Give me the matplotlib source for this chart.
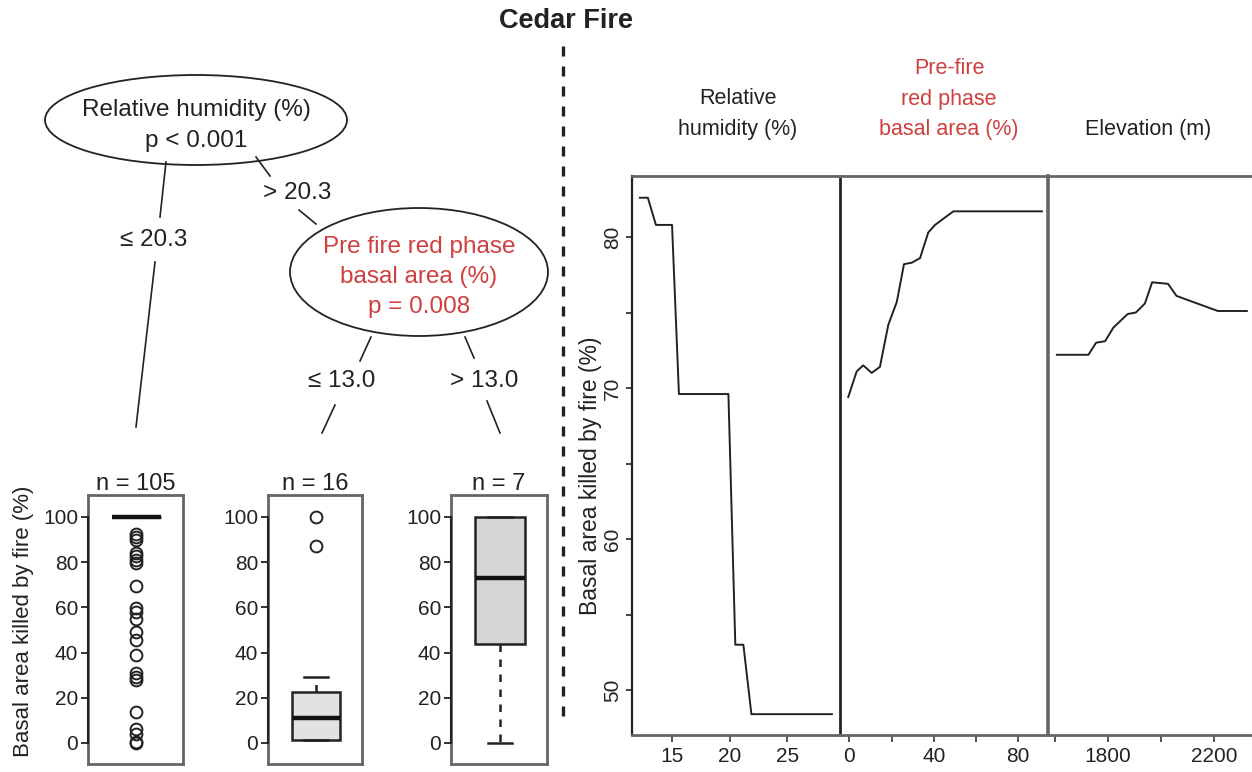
import matplotlib
matplotlib.use('Agg')
import matplotlib.pyplot as plt
from matplotlib.patches import Ellipse
from matplotlib.ticker import FixedLocator

plt.rcParams['font.family'] = ['Liberation Sans', 'DejaVu Sans']

# ---------------- data ----------------
title = "Cedar Fire"
node1_text = ["Relative humidity (%)", "p < 0.001"]
node2_text = ["Pre fire red phase", "basal area (%)", "p = 0.008"]
split1_labels = ["\u2264 20.3", "> 20.3"]
split2_labels = ["\u2264 13.0", "> 13.0"]

leaf_n = [105, 16, 7]
leaf1_stats = dict(med=100, q1=100, q3=100, whislo=100, whishi=100,
                   fliers=[92.6, 91.0, 89.6, 84.0, 82.5, 81.0, 79.6, 69.5, 59.6, 58.0,
                           55.0, 49.0, 45.6, 39.0, 30.8, 29.3, 27.8, 13.8, 6.0, 4.0, 0.5, 0.0])
leaf2_stats = dict(med=11.0, q1=1.2, q3=22.6, whislo=1.2, whishi=29.0,
                   fliers=[100.0, 87.3])
leaf3_stats = dict(med=72.9, q1=43.6, q3=100.0, whislo=0.0, whishi=100.0, fliers=[])
leaf_ticks = [0, 20, 40, 60, 80, 100]

pd_titles = [["Relative", "humidity (%)"], ["Pre-fire", "red phase", "basal area (%)"], ["Elevation (m)"]]
rh_x = [12.2, 12.9, 13.6, 15.0, 15.6, 19.9, 20.5, 21.2, 21.9, 28.9]
rh_y = [82.6, 82.6, 80.8, 80.8, 69.6, 69.6, 53.0, 53.0, 48.4, 48.4]
red_x = [-0.5, 3.5, 6.6, 10.6, 14.5, 18.5, 22.5, 25.9, 29.6, 33.5, 37.4, 40.6, 45.4, 49.3, 91.2]
red_y = [69.4, 71.1, 71.5, 71.0, 71.4, 74.2, 75.7, 78.2, 78.3, 78.6, 80.3, 80.8, 81.3, 81.7, 81.7]
elev_x = [1607, 1726, 1755, 1789, 1820, 1874, 1905, 1939, 1966, 2026, 2058, 2120, 2214, 2323]
elev_y = [72.2, 72.2, 73.0, 73.1, 74.0, 74.9, 75.0, 75.6, 77.0, 76.9, 76.1, 75.7, 75.1, 75.1]
pd_ylabel = "Basal area killed by fire (%)"
pd_yticks = [50, 60, 70, 80]
pd_yminor = [55, 65, 75]
rh_ticks, rh_minor = [15, 20, 25], []
red_ticks, red_minor = [0, 40, 80], [20, 60]
elev_ticks, elev_minor = [1800, 2200], [1600, 2000]

RED = '#cf3f3f'
FRAME = '#666666'

# ---------------- figure ----------------
W, H = 1252, 772
fig = plt.figure(figsize=(W / 100, H / 100), dpi=100)


def px_axes(x0, y0, x1, y1, **kw):
    return fig.add_axes([x0 / W, 1 - y1 / H, (x1 - x0) / W, (y1 - y0) / H], **kw)


# overlay in pixel coordinates
ov = px_axes(0, 0, W, H)
ov.set_xlim(0, W)
ov.set_ylim(H, 0)
ov.axis('off')
ov.set_zorder(0)

ov.text(566, 21, title, ha='center', va='center', fontsize=19.5, fontweight='bold', color='#222222')
ov.plot([563, 563], [46, 716], color='#222222', lw=2.4, ls=(0, (3, 3)))

# tree nodes
ov.add_patch(Ellipse((196, 120), 302, 90, fill=False, ec='#222222', lw=1.3))
ov.text(196, 110, node1_text[0], ha='center', va='center', fontsize=17.5, color='#222222')
ov.text(196, 141, node1_text[1], ha='center', va='center', fontsize=17.5, color='#222222')

ov.add_patch(Ellipse((419, 272), 258, 128, fill=False, ec='#222222', lw=1.3))
for t, y in zip(node2_text, [247, 277, 307]):
    ov.text(419, y, t, ha='center', va='center', fontsize=17.5, color=RED)

# edges
edges = [((166, 162), (160, 217)), ((155, 262), (136, 427)),
         ((256, 157), (270, 176)), ((299, 210), (316, 224)),
         ((371, 337), (360, 361)), ((335, 405), (322, 433)),
         ((465, 337), (474, 358)), ((487, 401), (500, 433))]
for (x0, y0), (x1, y1) in edges:
    ov.plot([x0, x1], [y0, y1], color='#222222', lw=1.2)
ov.text(154, 240, split1_labels[0], ha='center', va='center', fontsize=17.5, color='#222222')
ov.text(297, 193, split1_labels[1], ha='center', va='center', fontsize=17.5, color='#222222')
ov.text(342, 381, split2_labels[0], ha='center', va='center', fontsize=17.5, color='#222222')
ov.text(484, 381, split2_labels[1], ha='center', va='center', fontsize=17.5, color='#222222')

# ---------------- leaf box plots ----------------
leaf_boxes = [(88, 183), (268, 362), (451, 547)]
leaf_stats = [leaf1_stats, leaf2_stats, leaf3_stats]
leaf_fill = ['#d9d9d9', '#e2e2e2', '#d6d6d6']
for i, ((x0, x1), st, n) in enumerate(zip(leaf_boxes, leaf_stats, leaf_n)):
    ax = px_axes(x0, 495, x1, 764)
    ax.bxp([st], positions=[1.01], widths=0.515, patch_artist=True, showfliers=True,
           boxprops=dict(facecolor=leaf_fill[i], edgecolor='#222222', lw=1.8),
           medianprops=dict(color='#111111', lw=3.2),
           whiskerprops=dict(color='#222222', lw=1.8, ls=(0, (3, 3))),
           capprops=dict(color='#222222', lw=1.8), capwidths=0.25,
           flierprops=dict(marker='o', markerfacecolor='none', markeredgecolor='#222222',
                           markersize=8.5, markeredgewidth=1.4))
    ax.set_xlim(0.5, 1.5)
    ax.set_ylim(-9.3, 109.7)
    ax.set_xticks([])
    ax.set_yticks(leaf_ticks)
    ax.set_yticklabels([str(v) for v in leaf_ticks], fontsize=15, color='#222222')
    ax.tick_params(axis='y', length=5, width=1.3, color='#222222', pad=2, direction='out')
    for s in ax.spines.values():
        s.set_color(FRAME)
        s.set_linewidth(2)
    ax.plot([0, 0], [0, 100], color='#222222', lw=1.5, transform=ax.get_yaxis_transform(),
            clip_on=False, zorder=5)
    ax.set_title(f"n = {n}", fontsize=17, color='#222222', pad=2)
    if i == 0:
        ax.set_ylabel(pd_ylabel, fontsize=16, color='#222222')
        ax.yaxis.set_label_coords(-(88 - 34) / 95, (764 - 621) / (764 - 495))

# ---------------- partial dependence panels ----------------
pd_specs = [
    ((632, 840), (11.52, 29.6), rh_x, rh_y, rh_ticks, rh_minor),
    ((840, 1048), (-4.4, 94.1), red_x, red_y, red_ticks, red_minor),
    ((1048, 1256), (1573.7, 2357.6), elev_x, elev_y, elev_ticks, elev_minor),
]
pd_axes = []
for j, ((x0, x1), xl, xs, ys, tk, mn) in enumerate(pd_specs):
    ax = px_axes(x0, 176, x1, 735)
    ax.set_facecolor('none')
    ax.plot(xs, ys, color='#222222', lw=1.4)
    ax.set_xlim(*xl)
    ax.set_ylim(47.02, 84.04)
    ax.xaxis.set_major_locator(FixedLocator(tk))
    ax.xaxis.set_minor_locator(FixedLocator(mn))
    ax.set_xticklabels([str(v) for v in tk], fontsize=15, color='#222222')
    ax.tick_params(axis='x', which='both', length=5, width=1.3, color='#444444', pad=4)
    for s in ax.spines.values():
        s.set_color(FRAME)
        s.set_linewidth(2)
    if j == 0:
        ax.yaxis.set_major_locator(FixedLocator(pd_yticks))
        ax.yaxis.set_minor_locator(FixedLocator(pd_yminor))
        ax.set_yticklabels([str(v) for v in pd_yticks], fontsize=15, color='#222222',
                           rotation=90, va='center')
        ax.tick_params(axis='y', which='both', length=4, width=1.2, color='#222222', pad=3)
        ax.set_ylabel(pd_ylabel, fontsize=16.5, color='#222222')
        ax.yaxis.set_label_coords(-(632 - 602) / 208, (735 - 476) / (735 - 176))
        ax.spines['left'].set_color('#222222')
        ax.spines['left'].set_linewidth(1.6)
        ax.spines['right'].set_color('#222222')
        ax.spines['right'].set_linewidth(2)
    else:
        ax.set_yticks([])
        ax.spines['left'].set_visible(False)
        if j == 1:
            ax.spines['right'].set_linewidth(2.6)
    pd_axes.append(ax)

# panel headers
ov.text(738, 98, pd_titles[0][0], ha='center', va='center', fontsize=15.5, color='#222222')
ov.text(738, 130, pd_titles[0][1], ha='center', va='center', fontsize=15.5, color='#222222')
for t, y in zip(pd_titles[1], [68, 100, 130]):
    ov.text(949, y, t, ha='center', va='center', fontsize=15.5, color=RED)
ov.text(1148, 130, pd_titles[2][0], ha='center', va='center', fontsize=15.5, color='#222222')

fig.savefig('out.png', dpi=100)
